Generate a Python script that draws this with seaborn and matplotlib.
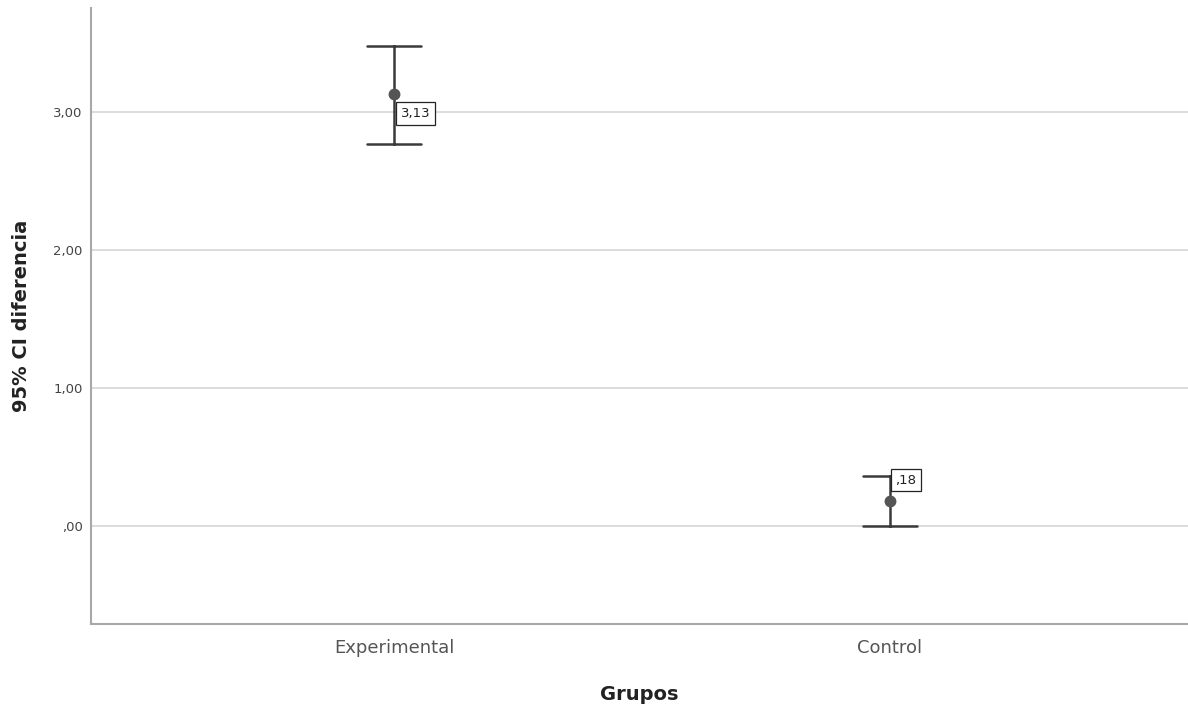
import numpy as np
import pandas as pd
import matplotlib
matplotlib.use("Agg")
import matplotlib.pyplot as plt
import seaborn as sns

# Data
groups = ["Experimental", "Control"]
means = [3.13, 0.18]
lower = [2.77, 0.00]
upper = [3.48, 0.36]
mean_labels = ["3,13", ",18"]
ytick_vals = [0, 1, 2, 3]
ytick_labels = [",00", "1,00", "2,00", "3,00"]

rows = []
for g, lo, m, hi in zip(groups, lower, means, upper):
    for v in (lo, m, hi):
        rows.append({"Grupos": g, "value": v})
df = pd.DataFrame(rows)

sns.set_theme(style="white")
plt.rcParams["font.family"] = ["DejaVu Sans"]

fig = plt.figure(figsize=(11.88, 7.06), dpi=100)
ax = fig.add_axes([91/1188, 1-624/706, 1-91/1188, (624-8)/706])

for y in ytick_vals:
    ax.axhline(y, color="#d6d6d6", lw=1.2, zorder=0)

sns.pointplot(data=df, x="Grupos", y="value", order=groups,
              estimator="median", errorbar=("pi", 100),
              capsize=0.11, linestyle="none", markers="o",
              color="#3a3a3a", markersize=6.5,
              err_kws={"linewidth": 1.8, "color": "#3a3a3a"}, ax=ax)
for ln in ax.lines:
    if ln.get_marker() == "o":
        ln.set_markerfacecolor("#555555")
        ln.set_markeredgecolor("#555555")
        ln.set_zorder(4)

offsets = [(5, -14), (4, 15)]
for i, (m, lab) in enumerate(zip(means, mean_labels)):
    ax.annotate(lab, xy=(i, m), xytext=offsets[i], textcoords="offset points",
                ha="left", va="center", fontsize=9.5, color="#222222",
                bbox=dict(boxstyle="square,pad=0.35", fc="white", ec="#222222", lw=0.9),
                zorder=5)

ax.set_xlim(-0.611, 1.601)
ax.set_ylim(-0.71, 3.754)
ax.set_yticks(ytick_vals)
ax.set_yticklabels(ytick_labels, fontsize=9.5, color="#444444")
ax.set_xticks([0, 1])
ax.set_xticklabels(groups, fontsize=13, color="#555555")
ax.tick_params(axis="both", length=0)
ax.tick_params(axis="y", pad=6)
ax.tick_params(axis="x", pad=11)
ax.set_xlabel("Grupos", fontsize=14, fontweight="bold", color="#222222", labelpad=20)
ax.set_ylabel("95% CI diferencia", fontsize=14, fontweight="bold", color="#222222", labelpad=16)

for s in ["top", "right"]:
    ax.spines[s].set_visible(False)
for s in ["left", "bottom"]:
    ax.spines[s].set_color("#a8a8a8")
    ax.spines[s].set_linewidth(1.5)

fig.savefig("out.png", dpi=100)
